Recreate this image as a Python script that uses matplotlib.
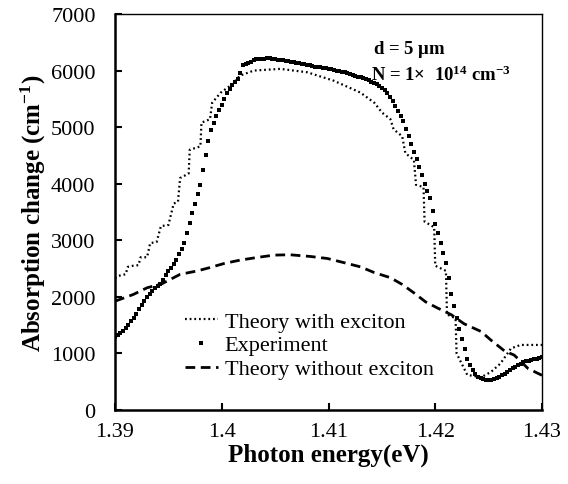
import matplotlib
matplotlib.use("Agg")
import matplotlib.pyplot as plt

plt.rcParams['font.family'] = ['Liberation Serif', 'DejaVu Serif']
plt.rcParams['mathtext.fontset'] = 'custom'
plt.rcParams['mathtext.rm'] = 'Liberation Serif'
plt.rcParams['mathtext.bf'] = 'Liberation Serif:bold'
plt.rcParams['mathtext.it'] = 'Liberation Serif:italic'

# Experiment
exp_e = [1.39000, 1.39025, 1.39050, 1.39075, 1.39100, 1.39125, 1.39150, 1.39175, 1.39200, 1.39225,
         1.39250, 1.39275, 1.39300, 1.39325, 1.39350, 1.39375, 1.39400, 1.39425, 1.39450, 1.39475,
         1.39500, 1.39525, 1.39550, 1.39575, 1.39600, 1.39625, 1.39650, 1.39675, 1.39700, 1.39725,
         1.39750, 1.39775, 1.39800, 1.39825, 1.39850, 1.39875, 1.39900, 1.39925, 1.39950, 1.39975,
         1.40000, 1.40025, 1.40050, 1.40075, 1.40100, 1.40125, 1.40150, 1.40175, 1.40200, 1.40225,
         1.40250, 1.40275, 1.40300, 1.40325, 1.40350, 1.40375, 1.40400, 1.40425, 1.40450, 1.40475,
         1.40500, 1.40525, 1.40550, 1.40575, 1.40600, 1.40625, 1.40650, 1.40675, 1.40700, 1.40725,
         1.40750, 1.40775, 1.40800, 1.40825, 1.40850, 1.40875, 1.40900, 1.40925, 1.40950, 1.40975,
         1.41000, 1.41025, 1.41050, 1.41075, 1.41100, 1.41125, 1.41150, 1.41175, 1.41200, 1.41225,
         1.41250, 1.41275, 1.41300, 1.41325, 1.41350, 1.41375, 1.41400, 1.41425, 1.41450, 1.41475,
         1.41500, 1.41525, 1.41550, 1.41575, 1.41600, 1.41625, 1.41650, 1.41675, 1.41700, 1.41725,
         1.41750, 1.41775, 1.41800, 1.41825, 1.41850, 1.41875, 1.41900, 1.41925, 1.41950, 1.41975,
         1.42000, 1.42025, 1.42050, 1.42075, 1.42100, 1.42125, 1.42150, 1.42175, 1.42200, 1.42225,
         1.42250, 1.42275, 1.42300, 1.42325, 1.42350, 1.42375, 1.42400, 1.42425, 1.42450, 1.42475,
         1.42500, 1.42525, 1.42550, 1.42575, 1.42600, 1.42625, 1.42650, 1.42675, 1.42700, 1.42725,
         1.42750, 1.42775, 1.42800, 1.42825, 1.42850, 1.42875, 1.42900, 1.42925, 1.42950, 1.42975,
         1.43000]
exp_v = [1290, 1320, 1360, 1400, 1450, 1510, 1570, 1630, 1700, 1780,
         1850, 1920, 1990, 2050, 2110, 2150, 2190, 2230, 2300, 2380,
         2450, 2510, 2580, 2660, 2760, 2850, 2950, 3120, 3300, 3480,
         3650, 3820, 3980, 4250, 4500, 4750, 4950, 5080, 5200, 5300,
         5400, 5500, 5600, 5680, 5750, 5800, 5850, 5950, 6090, 6110,
         6130, 6160, 6190, 6200, 6210, 6200, 6200, 6220, 6230, 6210,
         6200, 6195, 6190, 6180, 6170, 6165, 6160, 6150, 6140, 6130,
         6120, 6110, 6100, 6090, 6080, 6070, 6060, 6055, 6050, 6040,
         6030, 6020, 6010, 6000, 5990, 5980, 5970, 5955, 5940, 5925,
         5910, 5895, 5880, 5865, 5850, 5825, 5800, 5780, 5760, 5730,
         5700, 5650, 5600, 5530, 5460, 5370, 5280, 5190, 5100, 4970,
         4840, 4700, 4560, 4430, 4300, 4150, 4000, 3870, 3750, 3520,
         3290, 3120, 2950, 2780, 2600, 2330, 2050, 1830, 1620, 1430,
         1250, 1080, 910, 800, 700, 640, 590, 560, 540, 530,
         525, 530, 540, 560, 580, 610, 640, 675, 710, 735,
         760, 790, 820, 840, 860, 870, 880, 895, 910, 925,
         940]

# Theory with exciton
thx_e = [1.3900, 1.3903, 1.3910, 1.3912, 1.3917, 1.3922, 1.3924, 1.3930, 1.3933, 1.3939,
         1.3943, 1.3950, 1.3955, 1.3959, 1.3961, 1.3969, 1.3970, 1.3980, 1.3981, 1.3989,
         1.3991, 1.3999, 1.4010, 1.4017, 1.4030, 1.4055, 1.4080, 1.4105, 1.4130, 1.4143,
         1.4150, 1.4158, 1.4161, 1.4169, 1.4172, 1.4180, 1.4182, 1.4189, 1.4190, 1.4199,
         1.4200, 1.4210, 1.4211, 1.4219, 1.4220, 1.4230, 1.4243, 1.4252, 1.4261, 1.4271,
         1.4280, 1.4300]
thx_v = [2330, 2370, 2400, 2530, 2550, 2560, 2700, 2700, 2950, 2970,
         3250, 3270, 3650, 3680, 4100, 4180, 4600, 4660, 5080, 5140,
         5430, 5610, 5760, 5910, 6000, 6030, 5970, 5820, 5610, 5430,
         5260, 5140, 4960, 4840, 4540, 4420, 3980, 3940, 3330, 3230,
         2550, 2460, 1690, 1620, 1000, 620, 580, 670, 820, 1090,
         1150, 1150]

# Theory without exciton
tnx_e = [1.3900, 1.3917, 1.3930, 1.3944, 1.3961, 1.3977, 1.3989, 1.4002, 1.4017, 1.4033,
         1.4049, 1.4064, 1.4083, 1.4099, 1.4114, 1.4130, 1.4143, 1.4158, 1.4169, 1.4180,
         1.4191, 1.4202, 1.4215, 1.4227, 1.4243, 1.4252, 1.4265, 1.4274, 1.4287, 1.4300]
tnx_v = [1923, 2041, 2160, 2232, 2398, 2458, 2518, 2589, 2649, 2696,
         2738, 2744, 2714, 2678, 2607, 2530, 2428, 2339, 2220, 2071,
         1911, 1804, 1684, 1524, 1387, 1238, 1042, 970, 732, 613]

xticks = [1.39, 1.40, 1.41, 1.42, 1.43]
xtick_labels = ['1.39', '1.4', '1.41', '1.42', '1.43']
yticks = [0, 1000, 2000, 3000, 4000, 5000, 6000, 7000]

fig = plt.figure(figsize=(5.68, 4.85), dpi=100)
ax = fig.add_axes([115/568, 1-411/485, (542-115)/568, (411-15)/485])

ax.plot(thx_e, thx_v, color='black', lw=1.6, linestyle=(0, (0.8, 1.3)),
        label='Theory with exciton')
ax.plot(exp_e, exp_v, color='black', marker='s', ms=2.9, mew=0, linestyle='none',
        label='Experiment')
ax.plot(tnx_e, tnx_v, color='black', lw=2.0, linestyle=(0, (3.5, 2)),
        label='Theory without exciton')

ax.set_xlim(1.39, 1.43)
ax.set_ylim(0, 7000)
ax.set_xticks(xticks)
ax.set_xticklabels(xtick_labels)
ax.set_yticks(yticks)
ax.tick_params(direction='in', length=5, width=1.5, labelsize=16)
ax.tick_params(axis='x', pad=9)
ax.tick_params(axis='y', pad=14)
for s in ['left', 'bottom']:
    ax.spines[s].set_linewidth(1.8)
for s in ['top', 'right']:
    ax.spines[s].set_linewidth(1.0)

ax.set_xlabel('Photon energy(eV)', fontsize=18, fontweight='bold', labelpad=1)
ax.set_ylabel(r'Absorption change (cm$^{\mathbf{-1}}$)', fontsize=18,
              fontweight='bold', labelpad=2)

leg = ax.legend(loc='upper left', bbox_to_anchor=(0.163, 0.25), frameon=False,
                fontsize=16, handlelength=1.5, handletextpad=0.3, markerscale=1.0,
                labelspacing=0.15, borderaxespad=0, borderpad=0)

ax.text(0.605, 0.912, r'd = 5 $\mathbf{\mu}$m', transform=ax.transAxes,
        fontsize=13.5, fontweight='bold', ha='left', va='center')
ax.text(0.600, 0.848, r'N = 1$\mathbf{\times}$  10$^{\mathbf{14}}$ cm$^{\mathbf{-3}}$',
        transform=ax.transAxes, fontsize=13.5, fontweight='bold', ha='left', va='center')

fig.savefig('out.png', dpi=100)
